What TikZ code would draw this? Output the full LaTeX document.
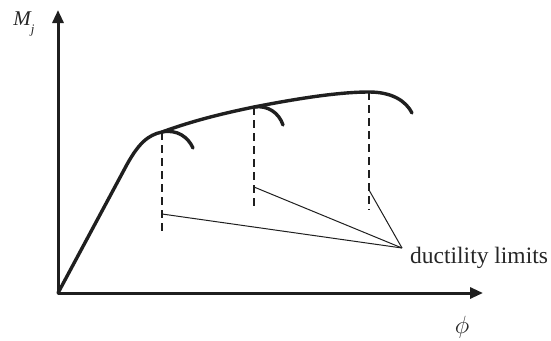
\documentclass[tikz,border=0pt]{standalone}
\usepackage{fontspec}
\setmainfont{Liberation Serif}
\usetikzlibrary{arrows.meta}
\tikzset{
  axis/.style={line width=3pt, -{Triangle[length=13pt,width=11pt]}},
  curve/.style={line width=3.4pt, line cap=round, color=black!88},
  guide/.style={line width=1.8pt, dash pattern=on 8pt off 5pt, color=black!88},
  leader/.style={line width=1pt, color=black!88},
  lbl/.style={inner sep=0pt, color=black!85}
}
\begin{document}
\begin{tikzpicture}[x=1pt,y=-1pt]
\useasboundingbox (0,0) rectangle (551,340);
\coordinate (O) at (58,293);
\coordinate (ytip) at (58,10);
\coordinate (xtip) at (483,293);
\draw[axis, color=black!88] (O) -- (ytip);
\draw[axis, color=black!88] (O) -- (xtip);
\coordinate (p1) at (162,132);
\coordinate (p2) at (254,107);
\coordinate (p3) at (369,92);
\draw[curve] (O) -- (124,170) .. controls (138,143) and (148,135) .. (p1)
  .. controls (195,120) and (225,113) .. (p2)
  .. controls (300,98) and (340,92) .. (p3)
  .. controls (392,92) and (406,101) .. (412,113);
\draw[curve] (p1) .. controls (177,129) and (188,137) .. (193,148);
\draw[curve] (p2) .. controls (268,105) and (279,113) .. (283,125);
\coordinate (d1) at (162,232);
\coordinate (d2) at (254,208);
\coordinate (d3) at (369,210);
\draw[guide] (p1) -- (d1);
\draw[guide] (p2) -- (d2);
\draw[guide] (p3) -- (d3);
\coordinate (l1) at (162,214);
\coordinate (l2) at (254,187);
\coordinate (l3) at (369,190);
\coordinate (conv) at (402,248);
\draw[leader] (l1) -- (conv);
\draw[leader] (l2) -- (conv);
\draw[leader] (l3) -- (conv);
\node[lbl, anchor=west, font=\fontsize{23.5}{26}\selectfont] (dl) at (410,258) {ductility limits};
\node[lbl, font=\fontsize{21}{23}\selectfont\itshape] (Mj) at (24,24) {M\raisebox{-0.35em}{\fontsize{13}{14}\selectfont j}};
\node[lbl, font=\fontsize{26}{28}\selectfont] (phi) at (462,327) {$\phi$};
\end{tikzpicture}
\end{document}
